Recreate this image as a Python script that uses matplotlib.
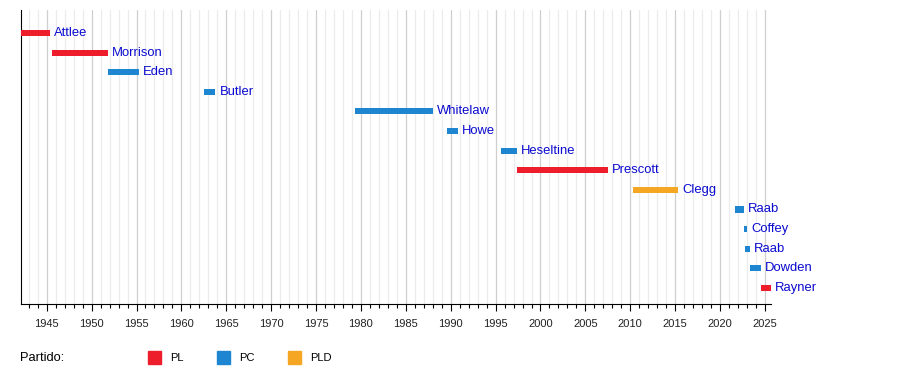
import datetime as dt
import matplotlib.pyplot as plt
from matplotlib.patches import Rectangle

# Deputy PMs: name, start, end, party
names = ["Attlee", "Morrison", "Eden", "Butler", "Whitelaw", "Howe", "Heseltine",
         "Prescott", "Clegg", "Raab", "Coffey", "Raab", "Dowden", "Rayner"]
starts = ["1942-02-19", "1945-07-26", "1951-10-26", "1962-07-13", "1979-05-04",
          "1989-07-24", "1995-07-20", "1997-05-02", "2010-05-11", "2021-09-15",
          "2022-09-06", "2022-10-25", "2023-04-21", "2024-07-05"]
ends = ["1945-05-23", "1951-10-26", "1955-04-06", "1963-10-18", "1988-01-10",
        "1990-11-01", "1997-05-02", "2007-06-27", "2015-05-08", "2022-09-06",
        "2022-10-25", "2023-04-21", "2024-07-05", "2025-09-05"]
parties = ["PL", "PL", "PC", "PC", "PC", "PC", "PC", "PL", "PLD", "PC", "PC",
           "PC", "PC", "PL"]

party_names = ["PL", "PC", "PLD"]
party_colors = {"PL": "#ee1d2b", "PC": "#1e86d0", "PLD": "#f5a623"}
label_color = "#0a0ad0"


def year_frac(s):
    d = dt.date.fromisoformat(s)
    y0 = dt.date(d.year, 1, 1)
    y1 = dt.date(d.year + 1, 1, 1)
    return d.year + (d - y0).days / (y1 - y0).days


x0 = [year_frac(s) for s in starts]
x1 = [year_frac(s) for s in ends]

fig = plt.figure(figsize=(9, 3.84), dpi=100)
plt.rcParams['font.family'] = ['Liberation Sans', 'DejaVu Sans']
ax = fig.add_axes([21 / 900, 80 / 384, 750 / 900, 294 / 384])

for i in range(len(names)):
    # very short terms get a minimum visible width
    w = max(x1[i] - x0[i], 0.35)
    ax.barh(i, w, left=x0[i], height=0.31,
            color=party_colors[parties[i]], zorder=3)
    ax.text(x0[i] + w + 0.45, i, names[i], color=label_color, fontsize=9.4,
            va='center', ha='left', zorder=4)

ax.set_xlim(x0[0], x1[-1])
ax.set_ylim(13.82, -1.17)
ax.set_yticks([])

major = list(range(1945, 2026, 5))
minor = list(range(1943, 2026))
ax.set_xticks(major)
ax.set_xticklabels([str(y) for y in major], fontsize=8, color="#222222")
ax.set_xticks(minor, minor=True)
ax.tick_params(axis='x', which='major', length=5, width=0.8, pad=6)
ax.tick_params(axis='x', which='minor', length=3, width=0.8)
for y in minor:
    c = "#cfcfcf" if y % 5 == 0 else "#ececec"
    ax.axvline(y, color=c, lw=0.9, zorder=1)

for s in ["top", "right"]:
    ax.spines[s].set_visible(False)
ax.spines["left"].set_color("black")
ax.spines["bottom"].set_color("black")

# legend
fig.text(20 / 900, 1 - 358 / 384, "Partido:", fontsize=9.3, va='center', ha='left')
leg_x = [148, 217, 288]
for px, p in zip(leg_x, party_names):
    fig.patches.append(Rectangle((px / 900, 1 - 364 / 384), 13 / 900, 13 / 384,
                                 transform=fig.transFigure, color=party_colors[p]))
    fig.text((px + 22) / 900, 1 - 358 / 384, p, fontsize=8, va='center', ha='left')

fig.savefig("out.png", dpi=100)
